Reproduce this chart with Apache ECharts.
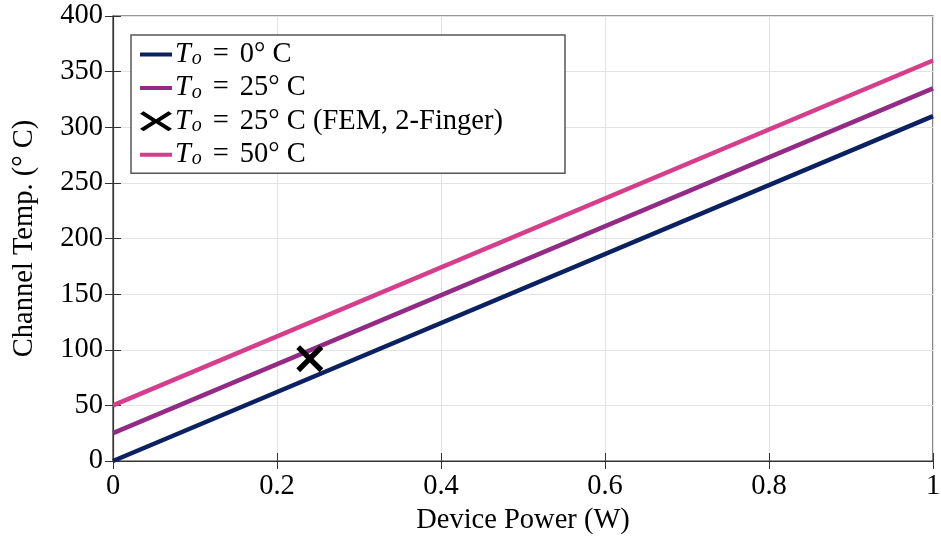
<!DOCTYPE html>
<html>
<head>
<meta charset="utf-8">
<script src="https://cdn.jsdelivr.net/npm/echarts@6/dist/echarts.min.js"></script>
<style>
  html, body { margin: 0; padding: 0; background: #fff; }
  #chart { width: 941px; height: 537px; }
</style>
</head>
<body>
<div id="chart"></div>
<script>
// data
const powers = [0, 1]
const temp0 = [0, 310]
const temp25 = [25, 335]
const temp50 = [50, 360]
const femPoint = [0.24, 92]

const font = 'Liberation Serif, Times New Roman, serif'
const fs = 28.5
const xMark = 'path://M0,1.4 L1.4,0 L5,3.6 L8.6,0 L10,1.4 L6.4,5 L10,8.6 L8.6,10 L5,6.4 L1.4,10 L0,8.6 L3.6,5 Z'
// line icon for the legend, padded to the full icon box so it stays thin
const lineIcon = 'path://M0,0 L0,0 Z M32,22 L32,22 Z M0,9 L32,9 L32,13 L0,13 Z'
const legendX = 'path://M0,2.5 L3.5,0 L16,8 L28.5,0 L32,2.5 L20,10 L32,17.5 L28.5,20 L16,12 L3.5,20 L0,17.5 L12,10 Z'

const pairs = (xs, ys) => xs.map((x, i) => [x, ys[i]])

const chart = echarts.init(document.getElementById('chart'))

const lineSeries = (name, ys, color) => ({
  name,
  type: 'line',
  data: pairs(powers, ys),
  showSymbol: false,
  lineStyle: { width: 4.5, color },
  itemStyle: { color },
  z: 2
})

const rich = {
  i: { fontStyle: 'italic', fontSize: fs, fontFamily: font, color: '#000', lineHeight: 30 },
  s: { fontStyle: 'italic', fontSize: 20, fontFamily: font, color: '#000', lineHeight: 21, padding: [9, 0, 0, 1] },
  e: { fontSize: fs, fontFamily: font, color: '#000', lineHeight: 30, width: 38, align: 'center' },
  n: { fontSize: fs, fontFamily: font, color: '#000', lineHeight: 30 }
}

const legendText = {
  'T0': '{i|T}{s|o}{e|=}{n|0° C}',
  'T25': '{i|T}{s|o}{e|=}{n|25° C}',
  'FEM': '{i|T}{s|o}{e|=}{n|25° C (FEM, 2-Finger)}',
  'T50': '{i|T}{s|o}{e|=}{n|50° C}'
}

const axisCommon = {
  axisLine: { show: true, lineStyle: { color: '#333', width: 1.2 } },
  axisTick: { show: true, inside: true, length: 8, lineStyle: { color: '#333' } },
  splitLine: { show: true, lineStyle: { color: '#e3e3e3', width: 1 } }
}

chart.setOption({
  animation: false,
  grid: {
    left: 113, right: 8, top: 16, bottom: 76,
    outerBoundsMode: 'none',
    show: true, borderColor: '#333', borderWidth: 1.2
  },
  legend: {
    left: 131,
    top: 35,
    orient: 'vertical',
    data: [
      { name: 'T0', icon: lineIcon },
      { name: 'T25', icon: lineIcon },
      { name: 'FEM', icon: legendX },
      { name: 'T50', icon: lineIcon }
    ],
    itemWidth: 32,
    itemHeight: 22,
    itemGap: 4.4,
    padding: [5, 62, 4, 9],
    backgroundColor: '#fff',
    borderColor: '#555',
    borderWidth: 1.5,
    borderRadius: 0,
    formatter: name => legendText[name],
    textStyle: { rich, fontFamily: font, fontSize: fs, color: '#000', padding: [0, 0, 0, -2] }
  },
  xAxis: [{
    type: 'value',
    min: 0,
    max: 1,
    interval: 0.2,
    name: 'Device Power (W)',
    nameLocation: 'middle',
    nameGap: 45,
    nameTextStyle: { fontFamily: font, fontSize: fs, color: '#000' },
    ...axisCommon,
    axisLabel: { fontFamily: font, fontSize: fs, color: '#000', margin: 11, formatter: v => String(+v.toFixed(1)) }
  }, {
    type: 'value',
    position: 'top',
    min: 0,
    max: 1,
    interval: 0.2,
    axisLine: { show: false },
    axisTick: { show: true, inside: true, length: 8, lineStyle: { color: '#333' } },
    axisLabel: { show: false },
    splitLine: { show: false }
  }],
  yAxis: [{
    type: 'value',
    min: 0,
    max: 400,
    interval: 50,
    name: 'Channel Temp. (° C)',
    nameLocation: 'middle',
    nameGap: 74,
    nameTextStyle: { fontFamily: font, fontSize: fs, color: '#000' },
    ...axisCommon,
    axisLabel: { fontFamily: font, fontSize: fs, color: '#000', margin: 10 }
  }, {
    type: 'value',
    position: 'right',
    min: 0,
    max: 400,
    interval: 50,
    axisLine: { show: false },
    axisTick: { show: true, inside: true, length: 8, lineStyle: { color: '#333' } },
    axisLabel: { show: false },
    splitLine: { show: false }
  }],
  series: [
    lineSeries('T0', temp0, '#0c2162'),
    lineSeries('T25', temp25, '#922a86'),
    {
      name: 'FEM',
      type: 'scatter',
      data: [femPoint],
      symbol: xMark,
      symbolSize: 27,
      itemStyle: { color: '#000', opacity: 1 },
      z: 5
    },
    lineSeries('T50', temp50, '#d63d8a')
  ]
})
</script>
</body>
</html>
